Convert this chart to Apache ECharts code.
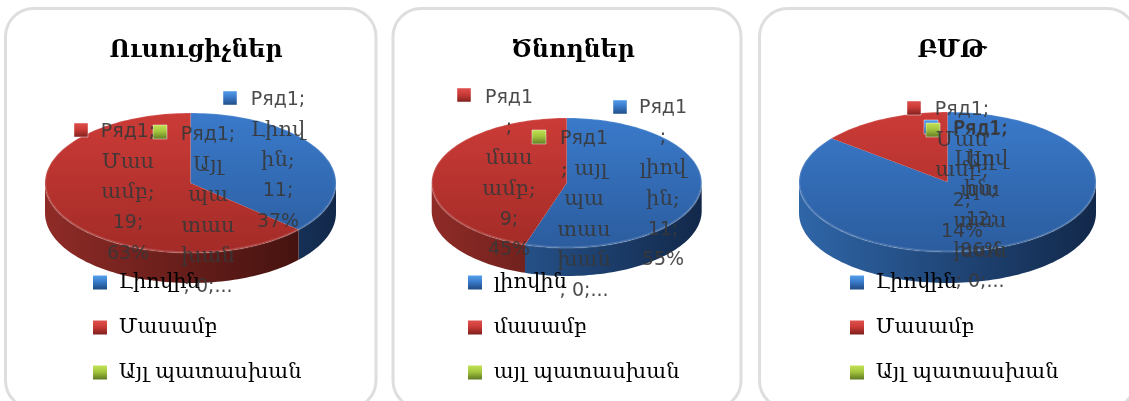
<!DOCTYPE html>
<html>
<head>
<meta charset="utf-8">
<style>html,body{margin:0;padding:0;background:#fff}#chart{width:1129px;height:401px}</style>
<script src="https://cdn.jsdelivr.net/npm/echarts@6/dist/echarts.min.js"></script>
</head>
<body>
<div id="chart"></div>
<script>
// data
const panelTitles = ['Ուսուցիչներ', 'Ծնողներ', 'ԲՄԹ'];
const categories = ['Լիովին', 'Մասամբ', 'Այլ պատասխան'];
const categoriesLower = ['լիովին', 'մասամբ', 'այլ պատասխան'];
const fullyValues = [11, 11, 12];
const partlyValues = [19, 9, 2];
const otherValues = [0, 0, 0];

// wrapped label text, as Excel broke it in each panel
const fullyLabels = [
  ['Ряд1;', 'Լիով', 'ին;'],
  ['Ряд1', ';', 'լիով', 'ին;'],
  ['Ряд1;', 'Լիով', 'ին;']
];
const partlyLabels = [
  ['Ряд1;', 'Մաս', 'ամբ;'],
  ['Ряд1', ';', 'մաս', 'ամբ;'],
  ['Ряд1;', 'Մաս', 'ամբ;']
];
const otherLabels = [
  ['Ряд1;', 'Այլ', 'պա', 'տաս', 'խան'],
  ['Ряд1', '; այլ', 'պա', 'տաս', 'խան'],
  ['Ряд1;', 'Այլ', 'պա', 'տաս', 'խան']
];

const SANS = '"DejaVu Sans"';
const SERIF = '"DejaVu Serif"';
const palette = [
  { top: '#3a7aca', bottom: '#2b5c9e', sideL: '#2f66a8', sideR: '#12284a', keyA: '#55a0ec', keyB: '#1f4a80' },
  { top: '#cb3b37', bottom: '#a32b27', sideL: '#8f2b27', sideR: '#3a0f0c', keyA: '#e0524e', keyB: '#7c1f1c' },
  { top: '#a3c63f', bottom: '#7d9a30', sideL: '#7d9a30', sideR: '#4a5c1c', keyA: '#c4e254', keyB: '#5f7a22' }
];

// layout
const panels = [
  { x: 5.5, w: 370.5, cx: 190.5, cy: 183, rx: 145.5, ry: 70, depth: 30, legendX: 93, titleX: 191 },
  { x: 393, w: 348, cx: 566.7, cy: 183, rx: 135, ry: 65, depth: 28, legendX: 468, titleX: 568 },
  { x: 759.5, w: 376, cx: 947.5, cy: 182, rx: 148.5, ry: 70, depth: 31, legendX: 850, titleX: 947 }
];
// centre of first text line and key square for every label: [panel][category]
const labelPos = [
  [{ x: 278, y: 100, kx: 223, ky: 98 }, { x: 128, y: 132, kx: 74, ky: 130 }, { x: 208, y: 135, kx: 153, ky: 132 }],
  [{ x: 663, y: 108, kx: 613, ky: 107 }, { x: 509, y: 98, kx: 457, ky: 95 }, { x: 584, y: 139, kx: 532, ky: 137 }],
  [{ x: 981, y: 129, kx: 924, ky: 127 }, { x: 962, y: 110, kx: 907, ky: 108 }, { x: 980, y: 130, kx: 926, ky: 130 }]
];
const LINE_H = 30.5;

const allValues = [fullyValues, partlyValues, otherValues];
const allLabels = [fullyLabels, partlyLabels, otherLabels];

function ellipsePoints(p, a0, a1, dy) {
  // angles measured clockwise from 12 o'clock
  const n = Math.max(2, Math.ceil((a1 - a0) / 0.03));
  const pts = [];
  for (let i = 0; i <= n; i++) {
    const a = a0 + (a1 - a0) * i / n;
    pts.push([p.cx + p.rx * Math.sin(a), p.cy - p.ry * Math.cos(a) + dy]);
  }
  return pts;
}

function keyGradient(col) {
  return new echarts.graphic.LinearGradient(0, 0, 0, 1, [
    { offset: 0, color: col.keyA },
    { offset: 0.45, color: col.top },
    { offset: 1, color: col.keyB }
  ]);
}

// Armenian lines use the serif face, Cyrillic and digits the sans one
function richLine(line) {
  return /[\u0530-\u058F]/.test(line) ? '{a|' + line + '}' : '{s|' + line + '}';
}

function renderSlice(catIndex) {
  return function (params, api) {
    const panelIndex = api.value(0);
    const value = api.value(1);
    const p = panels[panelIndex];
    const col = palette[catIndex];
    const total = allValues.reduce((s, arr) => s + arr[panelIndex], 0);
    const before = allValues.slice(0, catIndex).reduce((s, arr) => s + arr[panelIndex], 0);
    const a0 = before / total * Math.PI * 2;
    const a1 = (before + value) / total * Math.PI * 2;
    const children = [];

    if (value > 0) {
      // side wall, only the front half of the disc shows
      const s0 = Math.max(a0, Math.PI / 2);
      const s1 = Math.min(a1, Math.PI * 1.5);
      if (s1 > s0) {
        const upper = ellipsePoints(p, s0, s1, 0);
        const lower = ellipsePoints(p, s0, s1, p.depth).reverse();
        children.push({
          type: 'polygon',
          z2: 1,
          shape: { points: upper.concat(lower) },
          style: {
            fill: new echarts.graphic.LinearGradient(p.cx - p.rx, 0, p.cx + p.rx, 0, [
              { offset: 0, color: col.sideL },
              { offset: 1, color: col.sideR }
            ], true)
          }
        });
      }
      // top face
      children.push({
        type: 'polygon',
        z2: 2,
        shape: { points: [[p.cx, p.cy]].concat(ellipsePoints(p, a0, a1, 0)) },
        style: {
          fill: new echarts.graphic.LinearGradient(0, p.cy - p.ry, 0, p.cy + p.ry, [
            { offset: 0, color: col.top },
            { offset: 1, color: col.bottom }
          ], true)
        }
      });
      // lighter bevel round the rim
      children.push({
        type: 'polyline',
        z2: 3,
        shape: { points: ellipsePoints(p, a0, a1, -0.5) },
        style: { fill: null, stroke: 'rgba(255,255,255,0.14)', lineWidth: 2.5 }
      });
    }

    // data label with its key square
    const pos = labelPos[panelIndex][catIndex];
    const pct = Math.round(value / total * 100);
    let lines = allLabels[catIndex][panelIndex].slice();
    if (value > 0) {
      lines.push(value + ';', pct + '%');
    } else {
      lines.push('; ' + value + ';...');
    }
    children.push({
      type: 'rect',
      z2: 5 + catIndex,
      shape: { x: pos.kx, y: pos.ky - 7, width: 14, height: 14 },
      style: { fill: keyGradient(col), stroke: 'rgba(255,255,255,0.45)', lineWidth: 1 }
    });
    children.push({
      type: 'text',
      z2: 10,
      style: {
        x: pos.x,
        y: pos.y - LINE_H / 2,
        text: lines.map(richLine).join('\n'),
        align: 'center',
        verticalAlign: 'top',
        rich: {
          s: { font: '19px ' + SANS, lineHeight: LINE_H, fill: 'rgba(55,55,55,0.9)', align: 'center' },
          a: { font: '21px ' + SERIF, lineHeight: LINE_H, fill: 'rgba(55,55,55,0.9)', align: 'center' }
        }
      }
    });
    return { type: 'group', children: children };
  };
}

function sliceSeries(catIndex) {
  return {
    type: 'custom',
    name: categories[catIndex],
    coordinateSystem: 'none',
    silent: true,
    animation: false,
    itemStyle: { color: palette[catIndex].top },
    encode: { value: 1 },
    data: allValues[catIndex].map((v, i) => [i, v]),
    renderItem: renderSlice(catIndex)
  };
}

const chart = echarts.init(document.getElementById('chart'), null, { renderer: 'canvas' });
chart.setOption({
  animation: false,
  backgroundColor: '#fff',
  graphic: panels.map(p => ({
    type: 'rect',
    silent: true,
    z: -1,
    shape: { x: p.x, y: 8.5, width: p.w, height: 400, r: 28 },
    style: { fill: '#fff', stroke: '#dedede', lineWidth: 3 }
  })),
  title: panelTitles.map((t, i) => ({
    text: t,
    left: panels[i].titleX,
    top: 34,
    textAlign: 'center',
    textStyle: { fontFamily: SERIF, fontSize: 23.5, fontWeight: 'bold', color: '#000' }
  })),
  legend: panels.map((p, i) => ({
    orient: 'vertical',
    left: p.legendX - 5,
    top: 267,
    itemWidth: 14,
    itemHeight: 14,
    itemGap: 24,
    icon: 'rect',
    selectedMode: false,
    data: categories.map((name, c) => ({ name: name, itemStyle: { color: keyGradient(palette[c]) } })),
    formatter: name => ' ' + (i === 1 ? categoriesLower[categories.indexOf(name)] : name),
    textStyle: { fontFamily: SERIF, fontSize: 21, color: '#000' }
  })),
  series: [0, 1, 2].map(sliceSeries)
});
</script>
</body>
</html>
